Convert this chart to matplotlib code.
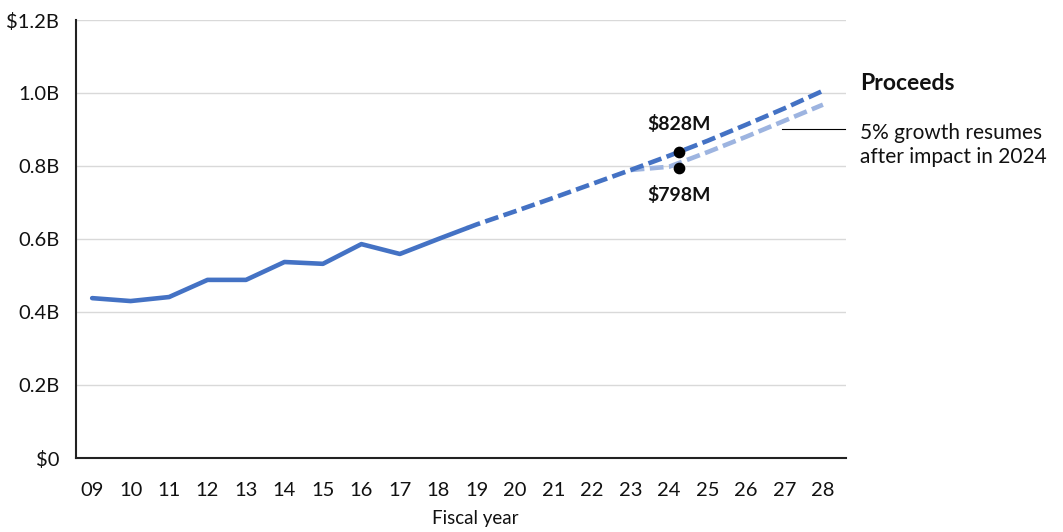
import matplotlib
matplotlib.use("Agg")
import matplotlib.pyplot as plt

plt.rcParams['font.family'] = ['Lato', 'DejaVu Sans']

# ---- data ----
years = ["09", "10", "11", "12", "13", "14", "15", "16", "17", "18",
         "19", "20", "21", "22", "23", "24", "25", "26", "27", "28"]
actual_pos = [0, 1, 2, 3, 4, 5, 6, 7, 8, 9, 9.75]
actual_vals = [0.438, 0.430, 0.441, 0.488, 0.488, 0.537, 0.532, 0.586, 0.559, 0.600, 0.630]
proj_pos = [9.75, 10, 11, 12, 13, 14, 15, 16, 17, 18, 19]
proj_vals = [0.630, 0.640, 0.676, 0.713, 0.751, 0.789, 0.828, 0.869, 0.913, 0.958, 1.006]
impact_pos = [14, 15, 16, 17, 18, 19]
impact_vals = [0.789, 0.798, 0.838, 0.880, 0.924, 0.968]
marker_pos = 15.25
marker_vals = [0.838, 0.795]
marker_labels = ["$828M", "$798M"]
y_ticks = [0, 0.2, 0.4, 0.6, 0.8, 1.0, 1.2]
y_labels = ["$0", "0.2B", "0.4B", "0.6B", "0.8B", "1.0B", "$1.2B"]

dark = "#4472C4"
light = "#9DB4E0"
txt = "#111111"

fig = plt.figure(figsize=(10.63, 5.32), dpi=100)
ax = fig.add_axes([76/1063, 74/532, (846-76)/1063, (458-20)/532])

ax.plot(actual_pos, actual_vals, color=dark, lw=3.3, solid_capstyle='round',
        solid_joinstyle='round', zorder=4)
ax.plot(impact_pos, impact_vals, color=light, lw=3.3, dashes=(3, 1.2),
        dash_capstyle='butt', zorder=3)
ax.plot(proj_pos, proj_vals, color=dark, lw=3.3, dashes=(3, 1.2),
        dash_capstyle='butt', zorder=4)

ax.scatter([marker_pos] * len(marker_vals), marker_vals, s=55, color='black', zorder=6)
ax.annotate(marker_labels[0], (marker_pos, marker_vals[0]), xytext=(0, 14),
            textcoords='offset points', ha='center', va='bottom',
            fontsize=14, fontweight='bold', color=txt)
ax.annotate(marker_labels[1], (marker_pos, marker_vals[1]), xytext=(0, -13),
            textcoords='offset points', ha='center', va='top',
            fontsize=14, fontweight='bold', color=txt)

ax.set_xlim(-0.42, 19.6)
ax.set_ylim(0, 1.2)
ax.set_xticks(range(len(years)))
ax.set_xticklabels(years)
ax.set_yticks(y_ticks)
ax.set_yticklabels(y_labels)
ax.tick_params(axis='both', length=0, labelsize=14.5, colors=txt)
ax.tick_params(axis='x', pad=17)
ax.tick_params(axis='y', pad=12)
ax.set_xlabel("Fiscal year", fontsize=13.5, color=txt)
ax.xaxis.set_label_coords((475 - 76) / 770, (458 - 510) / 438)

ax.grid(axis='y', color='#d9d9d9', lw=1)
ax.set_axisbelow(True)
for s in ['top', 'right']:
    ax.spines[s].set_visible(False)
for s in ['left', 'bottom']:
    ax.spines[s].set_color('#222222')
    ax.spines[s].set_linewidth(1.5)

# right-side annotations
fig.text(860/1063, 1 - 84/532, "Proceeds", fontsize=16.5, fontweight='bold',
         ha='left', va='center', color=txt)
fig.text(860/1063, 1 - 145/532, "5% growth resumes\nafter impact in 2024",
         fontsize=15, ha='left', va='center', linespacing=1.2, color=txt)
fig.add_artist(plt.Line2D([782/1063, 845/1063], [1 - 129/532, 1 - 129/532],
                          color='black', lw=0.8))

fig.savefig("out.png", dpi=100)
